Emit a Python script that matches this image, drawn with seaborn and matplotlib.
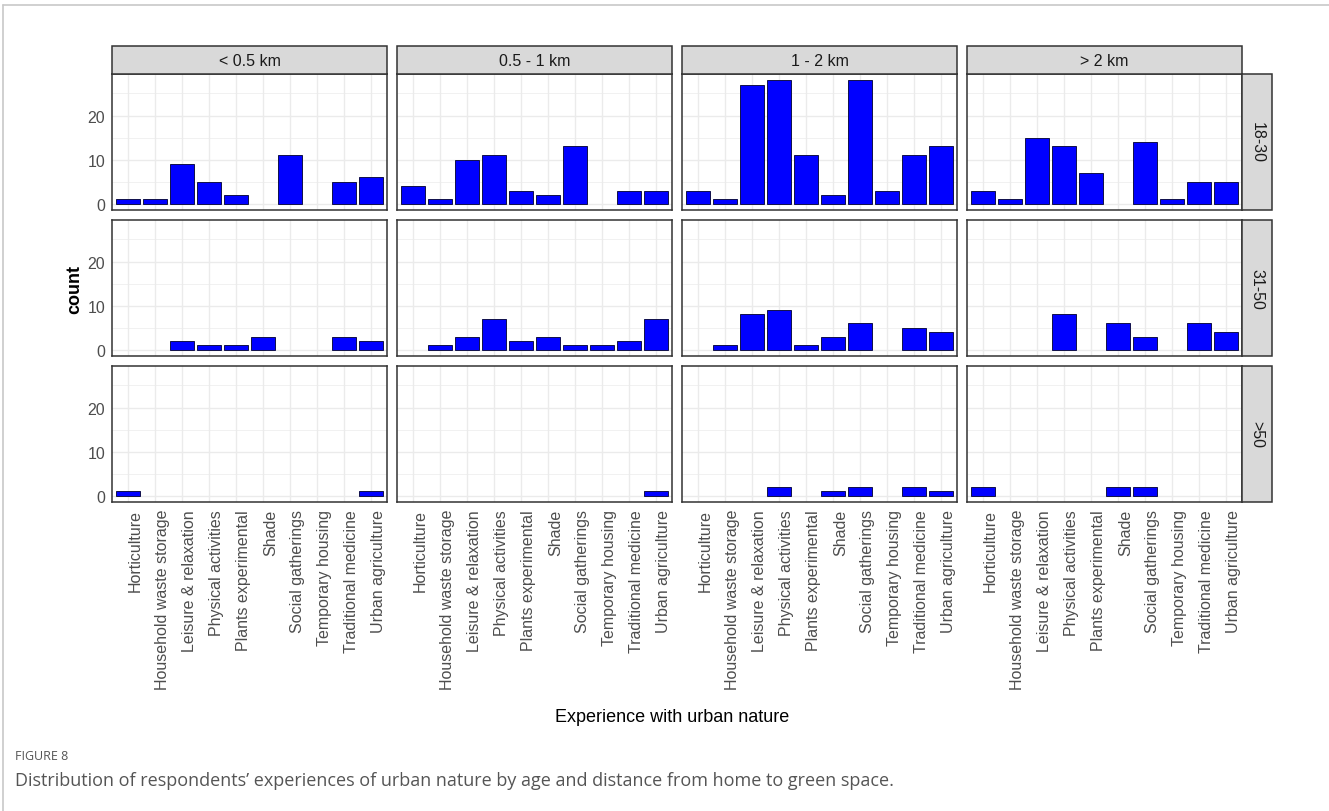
import numpy as np
import pandas as pd
import matplotlib
matplotlib.use("Agg")
import matplotlib.pyplot as plt
from matplotlib.lines import Line2D
from matplotlib.patches import Rectangle
import seaborn as sns

# ---- data ---------------------------------------------------------------
experiences = [
    "Horticulture", "Household waste storage", "Leisure & relaxation",
    "Physical activities", "Plants experimental", "Shade",
    "Social gatherings", "Temporary housing", "Traditional medicine",
    "Urban agriculture",
]
distances = ["< 0.5 km", "0.5 - 1 km", "1 - 2 km", "> 2 km"]
age_groups = ["18-30", "31-50", ">50"]

# counts per experience, one list per distance band
counts_18_30 = {
    "< 0.5 km":   [1, 1, 9, 5, 2, 0, 11, 0, 5, 6],
    "0.5 - 1 km": [4, 1, 10, 11, 3, 2, 13, 0, 3, 3],
    "1 - 2 km":   [3, 1, 27, 28, 11, 2, 28, 3, 11, 13],
    "> 2 km":     [3, 1, 15, 13, 7, 0, 14, 1, 5, 5],
}
counts_31_50 = {
    "< 0.5 km":   [0, 0, 2, 1, 1, 3, 0, 0, 3, 2],
    "0.5 - 1 km": [0, 1, 3, 7, 2, 3, 1, 1, 2, 7],
    "1 - 2 km":   [0, 1, 8, 9, 1, 3, 6, 0, 5, 4],
    "> 2 km":     [0, 0, 0, 8, 0, 6, 3, 0, 6, 4],
}
counts_over_50 = {
    "< 0.5 km":   [1, 0, 0, 0, 0, 0, 0, 0, 0, 1],
    "0.5 - 1 km": [0, 0, 0, 0, 0, 0, 0, 0, 0, 1],
    "1 - 2 km":   [0, 0, 0, 2, 0, 1, 2, 0, 2, 1],
    "> 2 km":     [2, 0, 0, 0, 0, 2, 2, 0, 0, 0],
}

rows = []
for age, table in zip(age_groups, [counts_18_30, counts_31_50, counts_over_50]):
    for dist in distances:
        for exp, n in zip(experiences, table[dist]):
            rows.append({"age": age, "distance": dist, "experience": exp, "count": n})
df = pd.DataFrame(rows)

# ---- styling ------------------------------------------------------------
sns.set_theme(style="white")
plt.rcParams["font.family"] = ["Liberation Sans", "DejaVu Sans"]

W, H = 1329, 812
fig = plt.figure(figsize=(W / 100, H / 100), dpi=100)

col_left = [112, 397, 682, 967]
row_top = [75, 221, 367]
pw, ph = 275, 136
strip_h = 28
strip_w = 30

TICK_SIZE = 11.5
EDGE = "#333333"
GRID = "#EBEBEB"

def fx(px):
    return px / W

def fy(py):
    return 1 - py / H

for r, age in enumerate(age_groups):
    for c, dist in enumerate(distances):
        ax = fig.add_axes([fx(col_left[c]), fy(row_top[r] + ph), fx(pw), ph / H])
        sub = df[(df["age"] == age) & (df["distance"] == dist) & (df["count"] > 0)]
        sns.barplot(
            data=sub, x="experience", y="count", order=experiences,
            color="#0000FF", saturation=1, width=0.9, errorbar=None,
            edgecolor="#10104a", linewidth=0.7, ax=ax,
        )
        ax.set_xlim(-0.6, 9.6)
        ax.set_ylim(-1.4, 29.4)
        ax.set_axisbelow(True)
        ax.set_xticks(range(len(experiences)))
        ax.set_yticks([0, 10, 20])
        ax.set_yticks([5, 15, 25], minor=True)
        ax.grid(True, which="major", color=GRID, linewidth=1.0)
        ax.grid(True, which="minor", axis="y", color=GRID, linewidth=0.5)
        ax.tick_params(which="minor", length=0)
        ax.tick_params(which="major", length=3, width=0.9, color=EDGE,
                       labelcolor="#4D4D4D", labelsize=TICK_SIZE, pad=2)
        for s in ax.spines.values():
            s.set_visible(True)
            s.set_color(EDGE)
            s.set_linewidth(1.1)
        ax.set_xlabel("")
        ax.set_ylabel("")
        if r == len(age_groups) - 1:
            ax.set_xticklabels(experiences, rotation=90, ha="left", va="top")
        else:
            ax.tick_params(axis="x", length=0, labelbottom=False)
        if c != 0:
            ax.tick_params(axis="y", length=0, labelleft=False)

        # column strips
        if r == 0:
            fig.add_artist(Rectangle((fx(col_left[c]), fy(row_top[0])), fx(pw), strip_h / H,
                                     transform=fig.transFigure, facecolor="#D9D9D9",
                                     edgecolor=EDGE, linewidth=1.1))
            fig.text(fx(col_left[c] + pw / 2), fy(row_top[0] - strip_h / 2), dist,
                     ha="center", va="center", fontsize=TICK_SIZE, color="#1A1A1A")
    # row strips
    x_s = col_left[-1] + pw
    fig.add_artist(Rectangle((fx(x_s), fy(row_top[r] + ph)), fx(strip_w), ph / H,
                             transform=fig.transFigure, facecolor="#D9D9D9",
                             edgecolor=EDGE, linewidth=1.1))
    fig.text(fx(x_s + strip_w / 2), fy(row_top[r] + ph / 2), age, rotation=-90,
             ha="center", va="center", fontsize=TICK_SIZE, color="#1A1A1A")

# axis titles
fig.text(fx(75), fy(row_top[1] + ph / 2), "count", rotation=90, ha="center", va="center",
         fontsize=13, fontweight="bold", color="black")
fig.text(fx(672), fy(718), "Experience with urban nature",
         ha="center", va="center", fontsize=13, color="black")

# caption
fig.text(fx(15), fy(757), "FIGURE 8", ha="left", va="center", fontsize=9,
         color="#555555", family=["Open Sans", "DejaVu Sans"])
fig.text(fx(15), fy(781),
         "Distribution of respondents\u2019 experiences of urban nature by age and distance from home to green space.",
         ha="left", va="center", fontsize=13, color="#555555", family=["Open Sans", "DejaVu Sans"])

# card border
fig.add_artist(Line2D([fx(3), 1], [fy(6), fy(6)], transform=fig.transFigure,
                      color="#C8C8C8", linewidth=1.2))
fig.add_artist(Line2D([fx(3), fx(3)], [fy(6), 0], transform=fig.transFigure,
                      color="#C8C8C8", linewidth=1.2))

fig.savefig("out.png", dpi=100)
